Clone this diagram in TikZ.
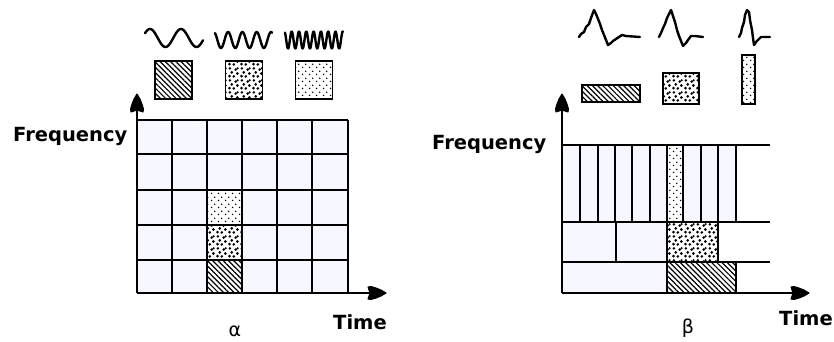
\documentclass[tikz,border=0pt]{standalone}
\usepackage{fontspec}
\usetikzlibrary{patterns,patterns.meta,arrows.meta}
\newfontfamily\labelfont{DejaVu Sans}
\definecolor{cellbg}{RGB}{246,247,255}
\pgfdeclarepatternformonly{densedots}{\pgfqpoint{0pt}{0pt}}{\pgfqpoint{12pt}{12pt}}{\pgfqpoint{12pt}{12pt}}{%
  \pgfpathcircle{\pgfqpoint{1.6pt}{2pt}}{1.55pt}
  \pgfpathcircle{\pgfqpoint{6.2pt}{1.7pt}}{1.55pt}
  \pgfpathcircle{\pgfqpoint{10pt}{4.8pt}}{1.55pt}
  \pgfpathcircle{\pgfqpoint{4pt}{6pt}}{1.55pt}
  \pgfpathcircle{\pgfqpoint{8.2pt}{9pt}}{1.55pt}
  \pgfpathcircle{\pgfqpoint{2pt}{10.2pt}}{1.55pt}
  \pgfpathcircle{\pgfqpoint{10.3pt}{10.4pt}}{1.2pt}
  \pgfusepath{fill}}
\pgfdeclarepatternformonly{lightdots}{\pgfqpoint{0pt}{0pt}}{\pgfqpoint{7pt}{7pt}}{\pgfqpoint{7pt}{7pt}}{%
  \pgfpathcircle{\pgfqpoint{1.75pt}{1.75pt}}{0.9pt}
  \pgfpathcircle{\pgfqpoint{5.25pt}{5.25pt}}{0.9pt}
  \pgfusepath{fill}}
\begin{document}
\begin{tikzpicture}[x=1pt,y=-1pt,
  gridline/.style={line width=1.6pt},
  headup/.style={line width=1pt,line join=round},
  wave/.style={line width=2.4pt,line join=round,line cap=round},
  lbl/.style={font=\labelfont\bfseries\fontsize{19.5}{20}\selectfont,inner sep=0pt},
  greek/.style={font=\labelfont\fontsize{19}{20}\selectfont,inner sep=0pt},
  iconbox/.style={draw,line width=1.5pt,inner sep=0pt},
  hatch/.style={preaction={fill=white},pattern={Lines[angle=-45,distance=3.7pt,line width=1.2pt]}},
  dense/.style={preaction={fill=white},pattern=densedots},
  light/.style={preaction={fill=white},pattern=lightdots}]
\useasboundingbox (0,0) rectangle (834,341);

% ---------- left diagram ----------
\fill[cellbg] (137,120) rectangle (348,293);
\fill[light] (207,190) rectangle (242,225);
\fill[dense] (207,225) rectangle (242,260);
\fill[hatch] (207,260) rectangle (242,293);
\foreach \x in {172,207,242,277,312,348} \draw[gridline] (\x,120) -- (\x,293);
\foreach \y in {120,154,190,225,260} \draw[gridline] (137,\y) -- (348,\y);
\coordinate (oA) at (137,293);
\coordinate (yA) at (137,94);
\coordinate (xA) at (386,293);
\draw[gridline] (oA) -- (yA);
\draw[gridline] (oA) -- (xA);
\filldraw[headup,shift={(yA)}] (0,0) -- (3,5) -- (5,10) -- (6.5,15) -- (6,18) -- (0,16) -- (-6,18) -- (-6.5,15) -- (-5,10) -- (-3,5) -- cycle;
\filldraw[headup,shift={(xA)}] (0,0) -- (-5,3) -- (-10,5) -- (-15,6.5) -- (-18,6) -- (-16,0) -- (-18,-6) -- (-15,-6.5) -- (-10,-5) -- (-5,-3) -- cycle;

\draw[wave] plot[domain=145:203,samples=90,smooth] (\x,{38-9*sin((\x-150)*11.613+90)});
\draw[wave] plot[domain=215:272,samples=120,smooth] (\x,{40-8*sin((\x-215)*25.17+120)});
\draw[wave] plot[domain=285:343,samples=200,smooth] (\x,{40-8.5*sin((\x-285)*49.3+120)});

\node[iconbox,hatch,minimum width=37pt,minimum height=38pt] (sq1) at (173.5,80) {};
\node[iconbox,dense,minimum width=37pt,minimum height=38pt] (sq2) at (244,80) {};
\node[iconbox,light,minimum width=37pt,minimum height=38pt] (sq3) at (314,80) {};

\node[lbl,anchor=base west] (freqA) at (13,141.5) {Frequency};
\node[lbl,anchor=base west] (timeA) at (333,329) {Time};
\node[greek,anchor=base] (alpha) at (235,336.5) {α};

% ---------- right diagram ----------
\fill[cellbg] (562,145) rectangle (736,222);
\fill[cellbg] (562,222) rectangle (718,262);
\fill[cellbg] (562,262) rectangle (736,293);
\fill[light] (667,145) rectangle (683,222);
\fill[dense] (667,222) rectangle (718,262);
\fill[hatch] (667,262) rectangle (736,293);
\foreach \y in {145,222,262} \draw[gridline] (562,\y) -- (770,\y);
\foreach \x in {580,598,615,632,650,667,683,701,718,736} \draw[gridline] (\x,145) -- (\x,222);
\foreach \x in {616,667,718} \draw[gridline] (\x,222) -- (\x,262);
\foreach \x in {667,736} \draw[gridline] (\x,262) -- (\x,293);
\coordinate (oB) at (562,293);
\coordinate (yB) at (562,94);
\coordinate (xB) at (809,293);
\draw[gridline] (oB) -- (yB);
\draw[gridline] (oB) -- (xB);
\filldraw[headup,shift={(yB)}] (0,0) -- (3,5) -- (5,10) -- (6.5,15) -- (6,18) -- (0,16) -- (-6,18) -- (-6.5,15) -- (-5,10) -- (-3,5) -- cycle;
\filldraw[headup,shift={(xB)}] (0,0) -- (-5,3) -- (-10,5) -- (-15,6.5) -- (-18,6) -- (-16,0) -- (-18,-6) -- (-15,-6.5) -- (-10,-5) -- (-5,-3) -- cycle;

\draw[wave] plot coordinates {(579,37) (581,34) (584,32) (586,27) (589,24) (591,18) (594,10) (596,14) (598,19) (600,24) (602,30) (604,35) (606,40) (608,45) (611,43) (613,41) (616,39) (619,37) (622,35) (626,36) (640,37)};
\draw[wave] plot coordinates {(659,37) (661,33) (663,28) (665,24) (667,18) (669,14) (671,10) (673,16) (675,22) (677,30) (679,36) (681,41) (683,46) (686,43) (688,40) (691,36) (695,36) (703,37)};
\draw[wave] plot coordinates {(739,37) (741,33) (742,28) (744,22) (745,15) (747,10) (749,12) (750,20) (752,30) (753,38) (754,45) (756,42) (758,40) (761,37) (764,37) (770,37)};

\node[iconbox,hatch,minimum width=58pt,minimum height=17pt] (rc1) at (611,93.5) {};
\node[iconbox,dense,minimum width=36pt,minimum height=31pt] (rc2) at (681,88.5) {};
\node[iconbox,light,minimum width=13pt,minimum height=49pt] (rc3) at (748.5,79.5) {};

\node[lbl,anchor=base west] (freqB) at (432,149) {Frequency};
\node[lbl,anchor=base west] (timeB) at (779,325) {Time};
\node[greek,anchor=base] (beta) at (688,333) {β};
\end{tikzpicture}
\end{document}
